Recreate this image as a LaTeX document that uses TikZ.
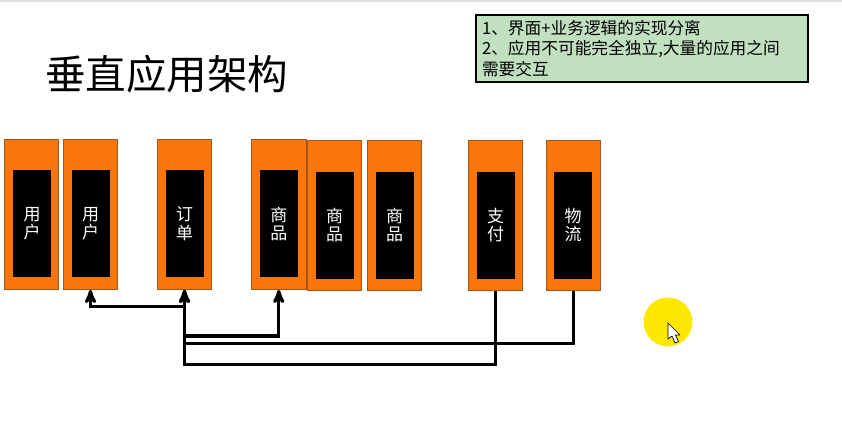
\documentclass[tikz,border=0pt]{standalone}
\usepackage{fontspec}
\setmainfont{Noto Sans CJK SC}
\usetikzlibrary{arrows}

\definecolor{apporange}{HTML}{FA760C}
\definecolor{appedge}{HTML}{A0581A}
\definecolor{notegreen}{HTML}{C0E0C0}
\definecolor{spotyellow}{HTML}{FFE800}

\begin{document}
\begin{tikzpicture}[x=1pt,y=1pt,>=stealth',node distance=56pt]
  \tikzstyle{appbox}=[draw=appedge,fill=apporange,line width=0.8pt,minimum width=54.5pt,
                      minimum height=150.5pt,inner sep=0pt]
  \tikzstyle{appcore}=[fill=black,text=white,minimum width=38pt,minimum height=107pt,
                       inner sep=0pt,align=center,node distance=9.5pt,
                       font=\fontsize{17}{18.5}\selectfont]
  \tikzstyle{link}=[line width=3.2pt,draw=black]
  \useasboundingbox (0,0) rectangle (842,-445);

  \fill[black!12] (0,0) rectangle (842,-1.5);

  % title and note
  \node (title) [anchor=center,inner sep=0pt] at (166.5,-74)
        {\fontsize{40.5}{44}\selectfont 垂直应用架构};
  \node[draw=black,fill=notegreen,line width=2pt,anchor=north west,minimum width=332pt,
        minimum height=67pt,inner sep=0pt,text width=320pt,align=left,
        font=\fontsize{16.7}{20.5}\selectfont] (note) at (475,-14)
        {1、界面+业务逻辑的实现分离\\2、应用不可能完全独立,大量的应用之间\\需要交互};

  % outer boxes
  \node[appbox] (userA)                                 at (31.25,-214.25) {};
  \node[appbox] (userB) [right of=userA,node distance=59.25pt] {};
  \node[appbox] (order) [right of=userB,node distance=94pt] {};
  \node[appbox] (goodsA) [right of=order,node distance=94.25pt] {};
  \node[appbox] (goodsB)                                at (334.5,-215.5) {};
  \node[appbox] (goodsC) [right of=goodsB,node distance=60pt] {};
  \node[appbox] (pay)    [right of=goodsC,node distance=101pt] {};
  \node[appbox] (ship)   [right of=pay,node distance=78pt] {};

  % inner boxes
  \node[appcore] (coreUserA)  [below of=userA,xshift=0.75pt]  {用\\户};
  \node[appcore] (coreUserB)  [below of=userB]  {用\\户};
  \node[appcore] (coreOrder)  [below of=order]  {订\\单};
  \node[appcore] (coreGoodsA) [below of=goodsA] {商\\品};
  \node[appcore] (coreGoodsB) [below of=goodsB] {商\\品};
  \node[appcore] (coreGoodsC) [below of=goodsC] {商\\品};
  \node[appcore] (corePay)    [below of=pay]    {支\\付};
  \node[appcore] (coreShip)   [below of=ship,xshift=-0.5pt]   {物\\流};

  % calls
  \draw[link,->] (order.south) -- ++(0,-16.5) -| (userB.south);
  \draw[link,->] (order.south) -- ++(0,-46) -| (goodsA.south);
  \draw[link,->] (ship.south) -- ++(0,-52.5) -| (order.south);
  \draw[link,->] (pay.south) -- ++(0,-73.5) -| (order.south);

  % pointer spot
  \node[circle,fill=spotyellow,minimum size=49pt,inner sep=0pt] (spot) at (668,-322) {};
  \draw[black,fill=white,line width=0.7pt,line join=round]
       (668,-323) -- (668,-339) -- (672,-336) -- (675,-343) -- (678.5,-341.5)
       -- (675.5,-335) -- (680,-335) -- cycle;
\end{tikzpicture}
\end{document}
